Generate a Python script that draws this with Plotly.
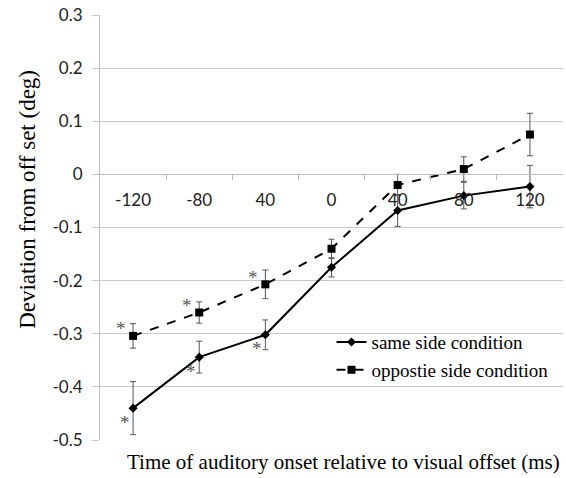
import plotly.graph_objects as go

x_labels = ["-120", "-80", "40", "0", "40", "80", "120"]
same_side = [-0.44, -0.344, -0.302, -0.175, -0.068, -0.04, -0.023]
same_err = [0.05, 0.03, 0.028, 0.018, 0.03, 0.025, 0.04]
opp_side = [-0.304, -0.26, -0.207, -0.14, -0.02, 0.01, 0.075]
opp_err = [0.023, 0.02, 0.027, 0.018, 0.02, 0.023, 0.04]
significant = [True, True, True, False, False, False, False]
y_ticks = [0.3, 0.2, 0.1, 0, -0.1, -0.2, -0.3, -0.4, -0.5]
y_ticktext = ["0.3", "0.2", "0.1", "0", "-0.1", "-0.2", "-0.3", "-0.4", "-0.5"]

xs = list(range(len(x_labels)))
serif = "Liberation Serif, Times New Roman, serif"
sans = "Lato, Open Sans, sans-serif"

fig = go.Figure()
fig.add_trace(go.Scatter(
    x=xs, y=same_side, mode="lines+markers", name="same side condition",
    line=dict(color="black", width=2),
    marker=dict(symbol="diamond", size=7, color="black"),
    error_y=dict(type="data", array=same_err, color="#555555", thickness=1, width=3),
))
fig.add_trace(go.Scatter(
    x=xs, y=opp_side, mode="lines+markers", name="oppostie side condition",
    line=dict(color="black", width=2, dash="dash"),
    marker=dict(symbol="square", size=8, color="black"),
    error_y=dict(type="data", array=opp_err, color="#555555", thickness=1, width=3),
))

for i, s in enumerate(significant):
    if s:
        fig.add_annotation(x=xs[i], y=same_side[i], text="*", showarrow=False,
                           xshift=-8, yshift=-14,
                           font=dict(family=serif, size=19, color="#555555"))
        fig.add_annotation(x=xs[i], y=opp_side[i], text="*", showarrow=False,
                           xshift=-12, yshift=7,
                           font=dict(family=serif, size=19, color="#555555"))

fig.add_annotation(text="Time of auditory onset relative to visual offset (ms)",
                   xref="paper", yref="paper", x=0.526, y=-0.052, yanchor="middle",
                   showarrow=False, font=dict(family=serif, size=21, color="black"))
fig.add_annotation(text="Deviation from off set (deg)", textangle=-90,
                   xref="paper", yref="paper", x=-0.158, y=0.567,
                   xanchor="center", yanchor="middle",
                   showarrow=False, font=dict(family=serif, size=23, color="black"))

fig.update_layout(
    width=566, height=478,
    margin=dict(l=100, r=3, t=15, b=38),
    plot_bgcolor="white", paper_bgcolor="white",
    showlegend=True,
    legend=dict(x=0.5, y=0.275, xanchor="left", yanchor="top",
                font=dict(family=serif, size=19, color="black"),
                bgcolor="rgba(0,0,0,0)", itemwidth=30),
    xaxis=dict(
        range=[-0.5, 6.5], tickvals=xs, ticktext=x_labels,
        anchor="free", position=0.625,
        showgrid=False, zeroline=False,
        showline=True, linecolor="#bbbbbb", linewidth=1,
        ticks="", ticklabelstandoff=10,
        tickfont=dict(family=sans, size=17, color="#222222"),
        minor=dict(tickvals=[i + 0.5 for i in xs[:-1]], ticks="outside",
                   ticklen=5, tickcolor="#bbbbbb", showgrid=False),
    ),
    yaxis=dict(
        range=[-0.5, 0.3], tickvals=y_ticks, ticktext=y_ticktext,
        showgrid=True, gridcolor="#c8c8c8", gridwidth=1, zeroline=False,
        showline=True, linecolor="#bbbbbb", linewidth=1,
        ticks="outside", ticklen=7, tickcolor="#c8c8c8", ticklabelstandoff=6,
        tickfont=dict(family=sans, size=17, color="#222222"),
    ),
)

fig.write_html("out.html")
